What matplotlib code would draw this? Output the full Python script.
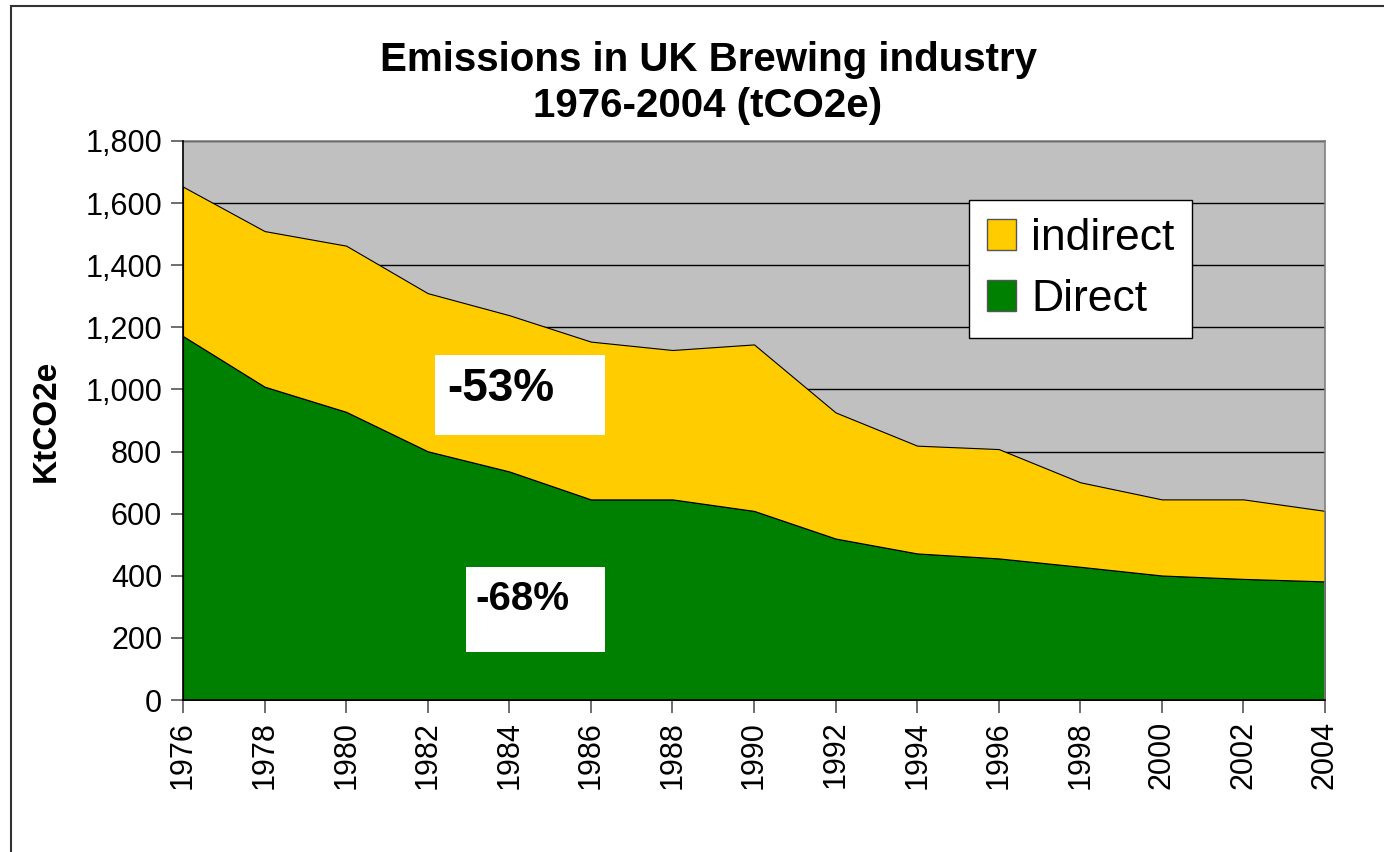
import matplotlib
matplotlib.use("Agg")
import matplotlib.pyplot as plt
from matplotlib.patches import Rectangle, Patch
from matplotlib.ticker import FuncFormatter

plt.rcParams['font.family'] = ['Liberation Sans', 'DejaVu Sans']

years = [1976, 1978, 1980, 1982, 1984, 1986, 1988, 1990, 1992, 1994, 1996, 1998, 2000, 2002, 2004]
direct = [1172, 1009, 928, 801, 736, 646, 646, 609, 520, 472, 456, 429, 401, 390, 382]
total = [1653, 1510, 1463, 1310, 1239, 1154, 1127, 1145, 926, 819, 808, 701, 646, 646, 609]
indirect = [t - d for t, d in zip(total, direct)]
series_labels = ["Direct", "indirect"]
series_colors = ["#008000", "#FFCC00"]
title_lines = ["Emissions in UK Brewing industry", "1976-2004 (tCO2e)"]
y_label = "KtCO2e"
annotations = ["-53%", "-68%"]

W, H = 1384, 852
fig = plt.figure(figsize=(W / 100, H / 100), dpi=100)
fig.patch.set_facecolor("white")

# outer frame
fig.patches.append(Rectangle((11 / W, -0.1), 1.2, 1 - 6 / H + 0.1, transform=fig.transFigure,
                             fill=False, edgecolor="#333333", linewidth=1.5, clip_on=False))

ax = fig.add_axes([183 / W, 1 - 700 / H, (1325 - 183) / W, (700 - 141) / H])
ax.set_facecolor("#C0C0C0")

ax.stackplot(years, direct, indirect, colors=series_colors, edgecolor="black",
             linewidth=0.8, zorder=2)

ax.set_xlim(years[0], years[-1])
ax.set_ylim(0, 1800)
ax.set_yticks(range(0, 1801, 200))
ax.yaxis.set_major_formatter(FuncFormatter(lambda v, p: f"{int(v):,}"))
ax.set_xticks(years)
ax.set_xticklabels([str(y) for y in years], rotation=90)

ax.grid(axis="y", color="black", linewidth=1.0)
ax.set_axisbelow(True)

for s in ["top", "right"]:
    ax.spines[s].set_color("#808080")
    ax.spines[s].set_linewidth(1.2)
for s in ["left", "bottom"]:
    ax.spines[s].set_color("black")
    ax.spines[s].set_linewidth(1.2)
    ax.spines[s].set_zorder(5)

ax.tick_params(axis="both", direction="out", length=9, width=1.2, color="#555555",
               labelsize=22, pad=6)

ax.set_ylabel(y_label, fontsize=24, fontweight="bold", labelpad=17)

# title
fig.text(708 / W, 1 - 60 / H, title_lines[0], ha="center", va="center",
         fontsize=29, fontweight="bold")
fig.text(708 / W, 1 - 106 / H, title_lines[1], ha="center", va="center",
         fontsize=29, fontweight="bold")

# annotation boxes
ax.add_patch(Rectangle((0.2207, 0.474), 0.3695 - 0.2207, 0.617 - 0.474, transform=ax.transAxes,
                       facecolor="white", edgecolor="none", zorder=6))
ax.text(0.2310, 0.556, annotations[0], transform=ax.transAxes, ha="left", va="center",
        fontsize=33, fontweight="bold", zorder=7)
ax.add_patch(Rectangle((0.2478, 0.0859), 0.3695 - 0.2478, 0.238 - 0.0859, transform=ax.transAxes,
                       facecolor="white", edgecolor="none", zorder=6))
ax.text(0.2560, 0.180, annotations[1], transform=ax.transAxes, ha="left", va="center",
        fontsize=29, fontweight="bold", zorder=7)

handles = [Patch(facecolor=series_colors[1], edgecolor="#555555", label=series_labels[1]),
           Patch(facecolor=series_colors[0], edgecolor="#555555", label=series_labels[0])]
leg = ax.legend(handles=handles, loc="upper left",
                bbox_to_anchor=((969 - 183) / 1142, (700 - 200) / 559),
                fontsize=32, frameon=True, fancybox=False, framealpha=1, facecolor="white",
                borderpad=0.4, handlelength=0.65, handleheight=0.7, handletextpad=0.35,
                labelspacing=0.45, borderaxespad=0)
leg.get_frame().set_edgecolor("black")
leg.get_frame().set_linewidth(1.0)
leg.set_zorder(8)

fig.savefig("out.png", dpi=100)
